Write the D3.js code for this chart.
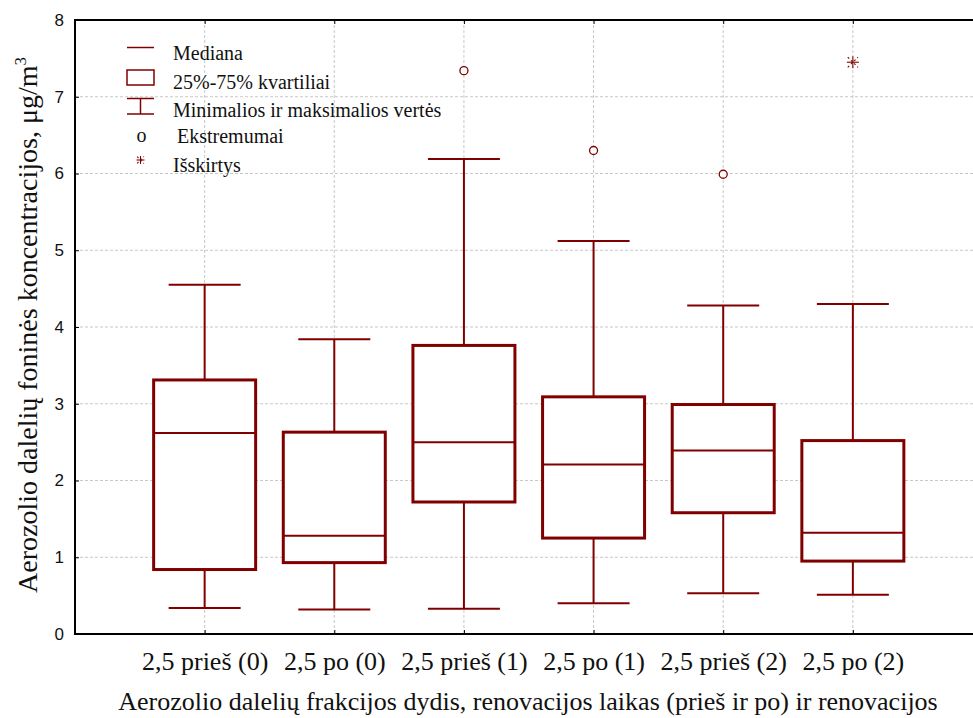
<!DOCTYPE html>
<html><head><meta charset="utf-8">
<script src="https://cdn.jsdelivr.net/npm/d3@7"></script>
<style>body{margin:0;background:#fff}svg{display:block}</style>
</head><body>
<script>
const categories = ["2,5 prieš (0)", "2,5 po (0)", "2,5 prieš (1)", "2,5 po (1)", "2,5 prieš (2)", "2,5 po (2)"];
const mins    = [0.34, 0.32, 0.33, 0.40, 0.53, 0.51];
const q1s     = [0.84, 0.93, 1.72, 1.25, 1.58, 0.95];
const medians = [2.62, 1.28, 2.50, 2.21, 2.39, 1.32];
const q3s     = [3.31, 2.63, 3.76, 3.09, 2.99, 2.52];
const maxs    = [4.55, 3.84, 6.19, 5.12, 4.28, 4.30];
const extremeCats = ["2,5 prieš (1)", "2,5 po (1)", "2,5 prieš (2)"];
const extremeVals = [7.34, 6.30, 5.99];
const outlierCats = ["2,5 po (2)"];
const outlierVals = [7.45];
const yTicks = [0, 1, 2, 3, 4, 5, 6, 7, 8];
const legendLabels = ["Mediana", "25%-75% kvartiliai", "Minimalios ir maksimalios vertės", "Ekstremumai", "Išskirtys"];
const xTitle = "Aerozolio dalelių frakcijos dydis, renovacijos laikas (prieš ir po) ir renovacijos";

const W = 973, H = 718;
const L = 75, T = 20, B = 634, R = 973;
const col = "#800000";
const serif = "'Liberation Serif', 'Times New Roman', serif";
const sans = "'Liberation Sans', Arial, sans-serif";

const svg = d3.select("body").append("svg").attr("width", W).attr("height", H);
const x = d3.scalePoint().domain(categories).range([L, 982.5]).padding(1);
const y = d3.scaleLinear().domain([0, 8]).range([B, T]);

// grid
const g = svg.append("g");
g.selectAll("line.hg").data(yTicks.filter(d => d > 0 && d < 8)).join("line")
  .attr("x1", L).attr("x2", R).attr("y1", d => y(d)).attr("y2", d => y(d))
  .attr("stroke", "#c8c8c8").attr("stroke-width", 1).attr("stroke-dasharray", "3,2");
g.selectAll("line.vg").data(categories).join("line")
  .attr("x1", d => x(d)).attr("x2", d => x(d)).attr("y1", T).attr("y2", B)
  .attr("stroke", "#c8c8c8").attr("stroke-width", 1).attr("stroke-dasharray", "3,2");

// axes
const yAxis = d3.axisLeft(y).tickValues(yTicks).tickSize(-4).tickPadding(11).tickFormat(d3.format("d"));
const ya = svg.append("g").attr("transform", `translate(${L},0)`).call(yAxis);
ya.select(".domain").remove();
ya.selectAll("line").attr("stroke", "#000");
ya.selectAll("text").attr("font-family", sans).attr("font-size", 17).attr("fill", "#111");

const xAxis = d3.axisBottom(x).tickSize(-4).tickPadding(18);
const xa = svg.append("g").attr("transform", `translate(0,${B})`).call(xAxis);
xa.select(".domain").remove();
xa.selectAll("line").attr("stroke", "#000");
xa.selectAll("text").attr("font-family", serif).attr("font-size", 26).attr("fill", "#111");

const xTop = d3.axisTop(x).tickSize(-4).tickFormat("");
const xt = svg.append("g").attr("transform", `translate(0,${T})`).call(xTop);
xt.select(".domain").remove();
xt.selectAll("line").attr("stroke", "#000");

svg.append("line").attr("x1", L).attr("x2", L).attr("y1", T - 1).attr("y2", B + 1).attr("stroke", "#000").attr("stroke-width", 2);
svg.append("line").attr("x1", L).attr("x2", R).attr("y1", B).attr("y2", B).attr("stroke", "#000").attr("stroke-width", 2);
svg.append("line").attr("x1", L).attr("x2", R).attr("y1", T).attr("y2", T).attr("stroke", "#000").attr("stroke-width", 2);

// boxes
const data = categories.map((c, i) => ({c, min: mins[i], q1: q1s[i], med: medians[i], q3: q3s[i], max: maxs[i]}));
const bw = 102, cw = 72;
const bx = svg.append("g").selectAll("g").data(data).join("g");
bx.append("line").attr("x1", d => x(d.c)).attr("x2", d => x(d.c)).attr("y1", d => y(d.max)).attr("y2", d => y(d.q3)).attr("stroke", col).attr("stroke-width", 2);
bx.append("line").attr("x1", d => x(d.c)).attr("x2", d => x(d.c)).attr("y1", d => y(d.q1)).attr("y2", d => y(d.min)).attr("stroke", col).attr("stroke-width", 2);
bx.append("line").attr("x1", d => x(d.c) - cw / 2).attr("x2", d => x(d.c) + cw / 2).attr("y1", d => y(d.max)).attr("y2", d => y(d.max)).attr("stroke", col).attr("stroke-width", 2);
bx.append("line").attr("x1", d => x(d.c) - cw / 2).attr("x2", d => x(d.c) + cw / 2).attr("y1", d => y(d.min)).attr("y2", d => y(d.min)).attr("stroke", col).attr("stroke-width", 2);
bx.append("rect").attr("x", d => x(d.c) - bw / 2).attr("width", bw).attr("y", d => y(d.q3)).attr("height", d => y(d.q1) - y(d.q3))
  .attr("fill", "#fff").attr("stroke", col).attr("stroke-width", 3);
bx.append("line").attr("x1", d => x(d.c) - bw / 2).attr("x2", d => x(d.c) + bw / 2).attr("y1", d => y(d.med)).attr("y2", d => y(d.med)).attr("stroke", col).attr("stroke-width", 2);

// extremes
svg.append("g").selectAll("circle").data(extremeCats.map((c, i) => ({c, v: extremeVals[i]}))).join("circle")
  .attr("cx", d => x(d.c)).attr("cy", d => y(d.v)).attr("r", 4)
  .attr("fill", "#fff").attr("stroke", col).attr("stroke-width", 1.3);

// outliers (asterisk)
function star(sel, cx, cy, s) {
  const gg = sel.append("g").attr("transform", `translate(${cx},${cy})`).attr("stroke", col).attr("stroke-width", 1.1);
  gg.append("line").attr("x1", -s).attr("x2", s).attr("y1", 0).attr("y2", 0);
  gg.append("line").attr("x1", 0).attr("x2", 0).attr("y1", -s).attr("y2", s);
  gg.append("line").attr("x1", -s * 0.85).attr("x2", s * 0.85).attr("y1", -s * 0.85).attr("y2", s * 0.85).attr("stroke-dasharray", "2,2.5");
  gg.append("line").attr("x1", -s * 0.85).attr("x2", s * 0.85).attr("y1", s * 0.85).attr("y2", -s * 0.85).attr("stroke-dasharray", "2,2.5");
}
outlierCats.forEach((c, i) => star(svg, x(c), y(outlierVals[i]), 6));

// legend
const lg = svg.append("g");
const lx0 = 127, lx1 = 154, lcx = 140.5, tx = 173;
lg.append("line").attr("x1", lx0).attr("x2", lx1).attr("y1", 47.5).attr("y2", 47.5).attr("stroke", col).attr("stroke-width", 1.5);
lg.append("rect").attr("x", lx0).attr("y", 70).attr("width", lx1 - lx0).attr("height", 15).attr("fill", "none").attr("stroke", col).attr("stroke-width", 1.5);
lg.append("line").attr("x1", lx0).attr("x2", lx1).attr("y1", 98.5).attr("y2", 98.5).attr("stroke", col).attr("stroke-width", 1.5);
lg.append("line").attr("x1", lx0).attr("x2", lx1).attr("y1", 114).attr("y2", 114).attr("stroke", col).attr("stroke-width", 1.5);
lg.append("line").attr("x1", lcx).attr("x2", lcx).attr("y1", 98.5).attr("y2", 114).attr("stroke", col).attr("stroke-width", 1.5);
lg.append("text").attr("x", lcx + 1).attr("y", 142).attr("text-anchor", "middle").attr("font-family", serif).attr("font-size", 20).attr("fill", "#111").text("o");
star(lg, lcx, 160, 4);
const ly = [60, 89, 117, 143, 172];
const lxs = [tx, tx, tx, tx + 4, tx];
lg.selectAll("text.l").data(legendLabels).join("text")
  .attr("x", (d, i) => lxs[i]).attr("y", (d, i) => ly[i])
  .attr("font-family", serif).attr("font-size", 20).attr("fill", "#111").text(d => d);

// titles
svg.append("text").attr("x", 528).attr("y", 710).attr("text-anchor", "middle")
  .attr("font-family", serif).attr("font-size", 26).attr("fill", "#111").text(xTitle);
const yt = svg.append("text").attr("transform", "translate(37,325) rotate(-90)").attr("text-anchor", "middle")
  .attr("font-family", serif).attr("font-size", 28).attr("fill", "#111");
yt.append("tspan").text("Aerozolio dalelių foninės koncentracijos, μg/m");
yt.append("tspan").attr("font-size", 17).attr("dy", -11).text("3");
</script>
</body></html>
